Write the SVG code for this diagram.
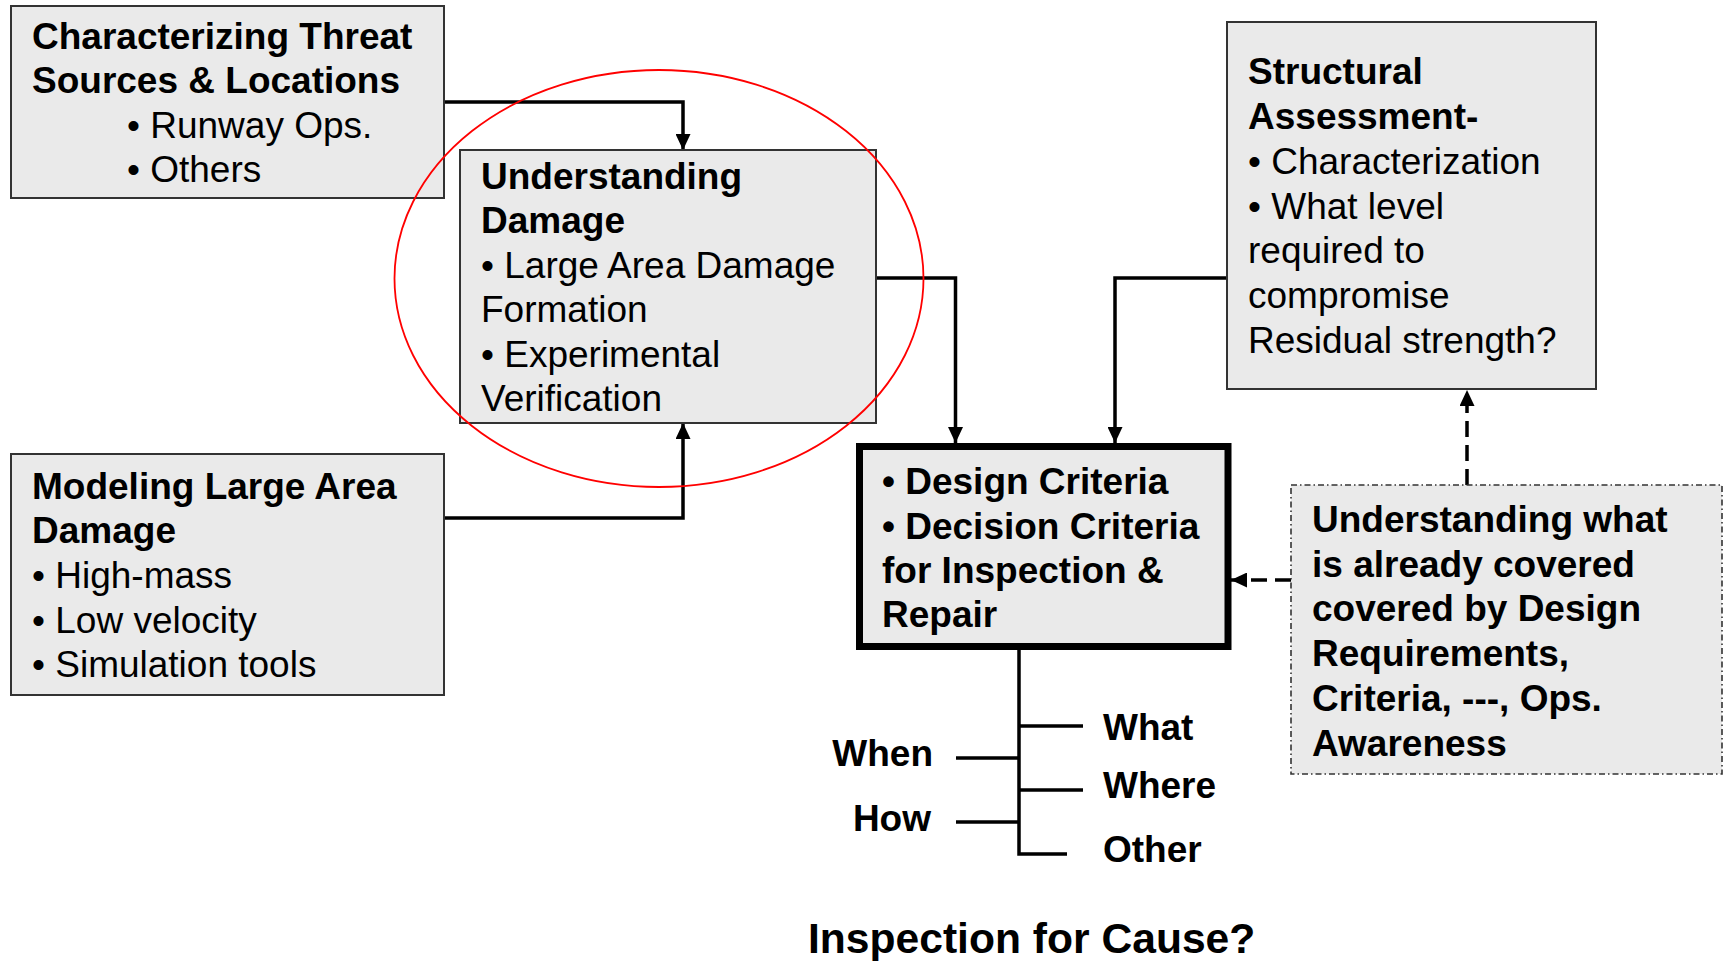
<svg xmlns="http://www.w3.org/2000/svg" width="1724" height="961" viewBox="0 0 1724 961">
<style>
.box{fill:#eaeaea;stroke:#333;stroke-width:2}
.thick{fill:#eaeaea;stroke:#000;stroke-width:7}
.dot{fill:#eaeaea;stroke:#333;stroke-width:1.6;stroke-dasharray:6 3 1.5 3}
text{font-family:"Liberation Sans",Arial,sans-serif;font-size:37px;fill:#000}
.b{font-weight:bold}
.c{fill:none;stroke:#000;stroke-width:3.5}
.d{fill:none;stroke:#000;stroke-width:3.5;stroke-dasharray:16 8}
</style>
<defs>
<marker id="ah" markerUnits="userSpaceOnUse" markerWidth="16" markerHeight="15" refX="16" refY="7.5" orient="auto">
<path d="M0,0 L16,7.5 L0,15 z" fill="#000"/>
</marker>
</defs>
<rect width="1724" height="961" fill="#fff"/>
<g id="connectors">
<polyline class="c" points="444,102 683,102 683,150" marker-end="url(#ah)"/>
<polyline class="c" points="444,518 683,518 683,423" marker-end="url(#ah)"/>
<polyline class="c" points="876,278 955.5,278 955.5,443" marker-end="url(#ah)"/>
<polyline class="c" points="1227,278 1115,278 1115,443" marker-end="url(#ah)"/>
<line class="d" x1="1467" y1="485" x2="1467" y2="390" marker-end="url(#ah)"/>
<line class="d" x1="1291" y1="580" x2="1231" y2="580" marker-end="url(#ah)"/>
<polyline class="c" points="1019,650 1019,854 1067,854"/>
<line class="c" x1="1019" y1="726" x2="1083" y2="726"/>
<line class="c" x1="1019" y1="790" x2="1083" y2="790"/>
<line class="c" x1="956" y1="758" x2="1019" y2="758"/>
<line class="c" x1="956" y1="822" x2="1019" y2="822"/>
</g>
<g id="threat">
<rect class="box" x="11" y="6" width="433" height="192"/>
<text class="b" x="32" y="49">Characterizing Threat</text>
<text class="b" x="32" y="93">Sources &amp; Locations</text>
<text x="127" y="138">• Runway Ops.</text>
<text x="127" y="182">• Others</text>
</g>
<g id="understanding">
<rect class="box" x="460" y="150" width="416" height="273"/>
<text class="b" x="481" y="189">Understanding</text>
<text class="b" x="481" y="233">Damage</text>
<text x="481" y="278">• Large Area Damage</text>
<text x="481" y="322">Formation</text>
<text x="481" y="367">• Experimental</text>
<text x="481" y="411">Verification</text>
</g>
<ellipse id="highlight" cx="659" cy="278.5" rx="264.5" ry="208.5" fill="none" stroke="#f00" stroke-width="1.8"/>
<g id="modeling">
<rect class="box" x="11" y="454" width="433" height="241"/>
<text class="b" x="32" y="499">Modeling Large Area</text>
<text class="b" x="32" y="543">Damage</text>
<text x="32" y="588">• High-mass</text>
<text x="32" y="633">• Low velocity</text>
<text x="32" y="677">• Simulation tools</text>
</g>
<g id="structural">
<rect class="box" x="1227" y="22" width="369" height="367"/>
<text class="b" x="1248" y="84">Structural</text>
<text class="b" x="1248" y="129">Assessment-</text>
<text x="1248" y="174">• Characterization</text>
<text x="1248" y="219">• What level</text>
<text x="1248" y="263">required to</text>
<text x="1248" y="308">compromise</text>
<text x="1248" y="353">Residual strength?</text>
</g>
<g id="criteria">
<rect class="thick" x="859.5" y="446.5" width="368.5" height="200"/>
<text class="b" x="882" y="494">• Design Criteria</text>
<text class="b" x="882" y="539">• Decision Criteria</text>
<text class="b" x="882" y="583">for Inspection &amp;</text>
<text class="b" x="882" y="627">Repair</text>
</g>
<g id="covered">
<rect class="dot" x="1291" y="485" width="431" height="289"/>
<text class="b" x="1312" y="532">Understanding what</text>
<text class="b" x="1312" y="577">is already covered</text>
<text class="b" x="1312" y="621">covered by Design</text>
<text class="b" x="1312" y="666">Requirements,</text>
<text class="b" x="1312" y="711">Criteria, ---, Ops.</text>
<text class="b" x="1312" y="756">Awareness</text>
</g>
<g id="labels">
<text class="b" x="1103" y="740">What</text>
<text class="b" x="1103" y="798">Where</text>
<text class="b" x="1103" y="862">Other</text>
<text class="b" x="933" y="766" text-anchor="end">When</text>
<text class="b" x="931" y="831" text-anchor="end">How</text>
<text class="b" x="808" y="953" style="font-size:42.6px">Inspection for Cause?</text>
</g>
</svg>
